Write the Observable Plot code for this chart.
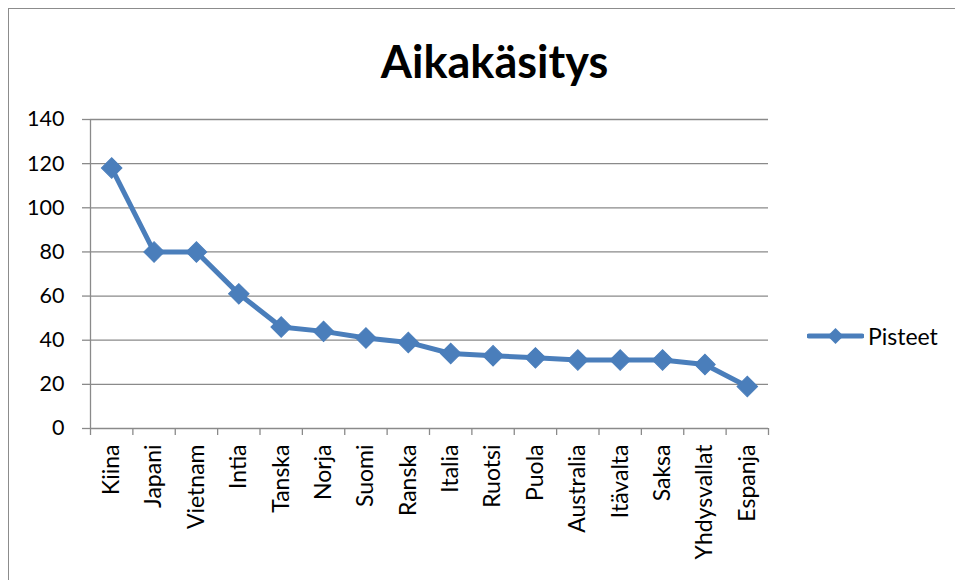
<!DOCTYPE html>
<html>
<head>
<meta charset="utf-8">
<script src="https://cdn.jsdelivr.net/npm/d3@7"></script>
<script src="https://cdn.jsdelivr.net/npm/@observablehq/plot@0.6"></script>
<style>
  html, body { margin: 0; padding: 0; background: #fff; }
  #wrap { position: relative; width: 955px; height: 580px; overflow: hidden; font-family: Lato, "Open Sans", sans-serif; }
  #frame { position: absolute; left: 8px; top: 8px; width: 960px; height: 590px; border: 1.5px solid #8c8c8c; box-sizing: border-box; pointer-events: none; }
  #legend { position: absolute; left: 807px; top: 322px; display: flex; align-items: center; font-size: 23px; color: #000; }
  #legend svg { margin-right: 4px; }
</style>
</head>
<body>
<div id="wrap">
  <div id="chart"></div>
  <div id="frame"></div>
  <div id="legend"></div>
</div>
<script>
const title = "Aikakäsitys";
const seriesName = "Pisteet";
const categories = ["Kiina", "Japani", "Vietnam", "Intia", "Tanska", "Norja", "Suomi", "Ranska", "Italia", "Ruotsi", "Puola", "Australia", "Itävalta", "Saksa", "Yhdysvallat", "Espanja"];
const values = [118, 80, 80, 61, 46, 44, 41, 39, 34, 33, 32, 31, 31, 31, 29, 19];
const yTicks = [0, 20, 40, 60, 80, 100, 120, 140];

const color = "#4a7ebb";
const grid = "#8a8a8a";
const data = categories.map((c, i) => ({ cat: c, pos: i + 0.5, value: values[i] }));
const boundaries = d3.range(categories.length + 1);

const chart = Plot.plot({
  width: 955,
  height: 580,
  marginLeft: 90,
  marginRight: 187,
  marginTop: 119,
  marginBottom: 152,
  style: { fontFamily: "Lato, 'Open Sans', sans-serif", fontSize: "20px", color: "#000", background: "transparent" },
  x: { type: "linear", domain: [0, categories.length] },
  y: { domain: [0, 140] },
  marks: [
    Plot.gridY(yTicks.filter(t => t > 0), { stroke: grid, strokeOpacity: 1, strokeWidth: 1.3 }),
    Plot.axisY({ ticks: yTicks, tickSize: 8, tickPadding: 18, stroke: grid, strokeWidth: 1.3, label: null, fontSize: 21.5 }),
    Plot.axisX({ ticks: boundaries, tickSize: 7, tickFormat: () => "", stroke: grid, strokeWidth: 1.3, label: null }),
    Plot.axisX({ ticks: data.map(d => d.pos), tickSize: 0, tickPadding: 16, tickRotate: -90, tickFormat: (d) => categories[Math.round(d - 0.5)], label: null, fontSize: 23 }),
    Plot.ruleX([0], { stroke: grid, strokeWidth: 1.3 }),
    Plot.ruleY([0], { stroke: grid, strokeWidth: 1.3 }),
    Plot.line(data, { x: "pos", y: "value", stroke: color, strokeWidth: 5, strokeLinejoin: "round" }),
    Plot.dot(data, { x: "pos", y: "value", symbol: "square", rotate: 45, r: 8.2, fill: color, stroke: color, strokeWidth: 1 }),
    Plot.text([title], { frameAnchor: "top", lineAnchor: "top", dy: -73, dx: 65, text: d => d, fontSize: 45, fontWeight: "bold", fill: "#000" })
  ]
});
document.getElementById("chart").appendChild(chart);

document.getElementById("legend").innerHTML =
  `<svg width="57" height="20" viewBox="0 0 57 20"><line x1="2" y1="10" x2="55" y2="10" stroke="${color}" stroke-width="5" stroke-linecap="round"/><path d="M28.5 2 L36.5 10 L28.5 18 L20.5 10 Z" fill="${color}"/></svg><span>${seriesName}</span>`;
</script>
</body>
</html>
